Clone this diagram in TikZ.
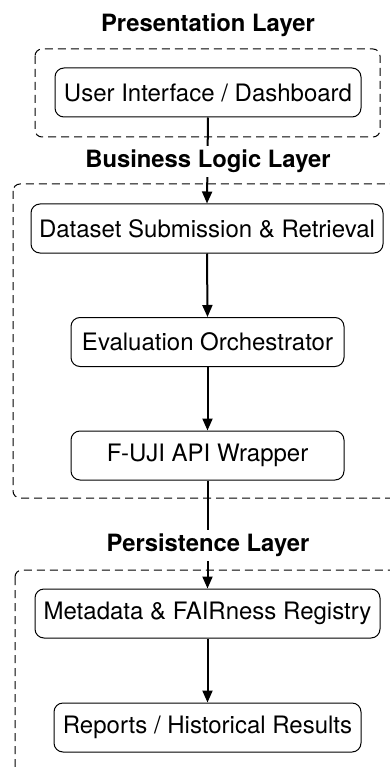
\documentclass[tikz,border=0pt]{standalone}
\usepackage{fontspec}
\setmainfont{TeX Gyre Heros}
\usetikzlibrary{arrows.meta}
\begin{document}
\begin{tikzpicture}[x=1pt,y=-1pt,
  comp/.style={draw,line width=1pt,rounded corners=9pt,minimum height=49pt,inner sep=0pt,font=\fontsize{24}{28}\selectfont},
  layer/.style={draw,dash pattern=on 8pt off 5pt,line width=1pt,rounded corners=7pt},
  ttl/.style={font=\bfseries\fontsize{23.8}{28}\selectfont,fill=white,inner sep=4pt,anchor=base},
  flow/.style={line width=2pt,-{Triangle[length=12pt,width=10pt]}}]
\useasboundingbox (0,0) rectangle (390,767);
% layers
\draw[layer] (35,49) rectangle (380,137);
\draw[layer] (13,184) rectangle (400,498);
\draw[layer] (15,570) rectangle (400,780);
% components
\node[comp,minimum width=306pt] (ui) at (208,92.5) {User Interface / Dashboard};
\node[comp,minimum width=352pt] (ds) at (207,228.5) {Dataset Submission \& Retrieval};
\node[comp,minimum width=273pt] (eo) at (207.5,342) {Evaluation Orchestrator};
\node[comp,minimum width=273pt] (fw) at (207.5,455.5) {F-UJI API Wrapper};
\node[comp,minimum width=345pt] (md) at (207.5,613.5) {Metadata \& FAIRness Registry};
\node[comp,minimum width=307pt] (rp) at (207.5,727.5) {Reports / Historical Results};
% connectors
\draw[flow] (ui.south) -- (ds.north);
\draw[flow] (ds.south) -- (eo.north);
\draw[flow] (eo.south) -- (fw.north);
\draw[flow] (fw.south) -- (md.north);
\draw[flow] (md.south) -- (rp.north);
% titles
\node[ttl] (t1) at (208,31.7) {Presentation Layer};
\node[ttl] (t2) at (208,168) {Business Logic Layer};
\node[ttl] (t3) at (208,551.7) {Persistence Layer};
\end{tikzpicture}
\end{document}
